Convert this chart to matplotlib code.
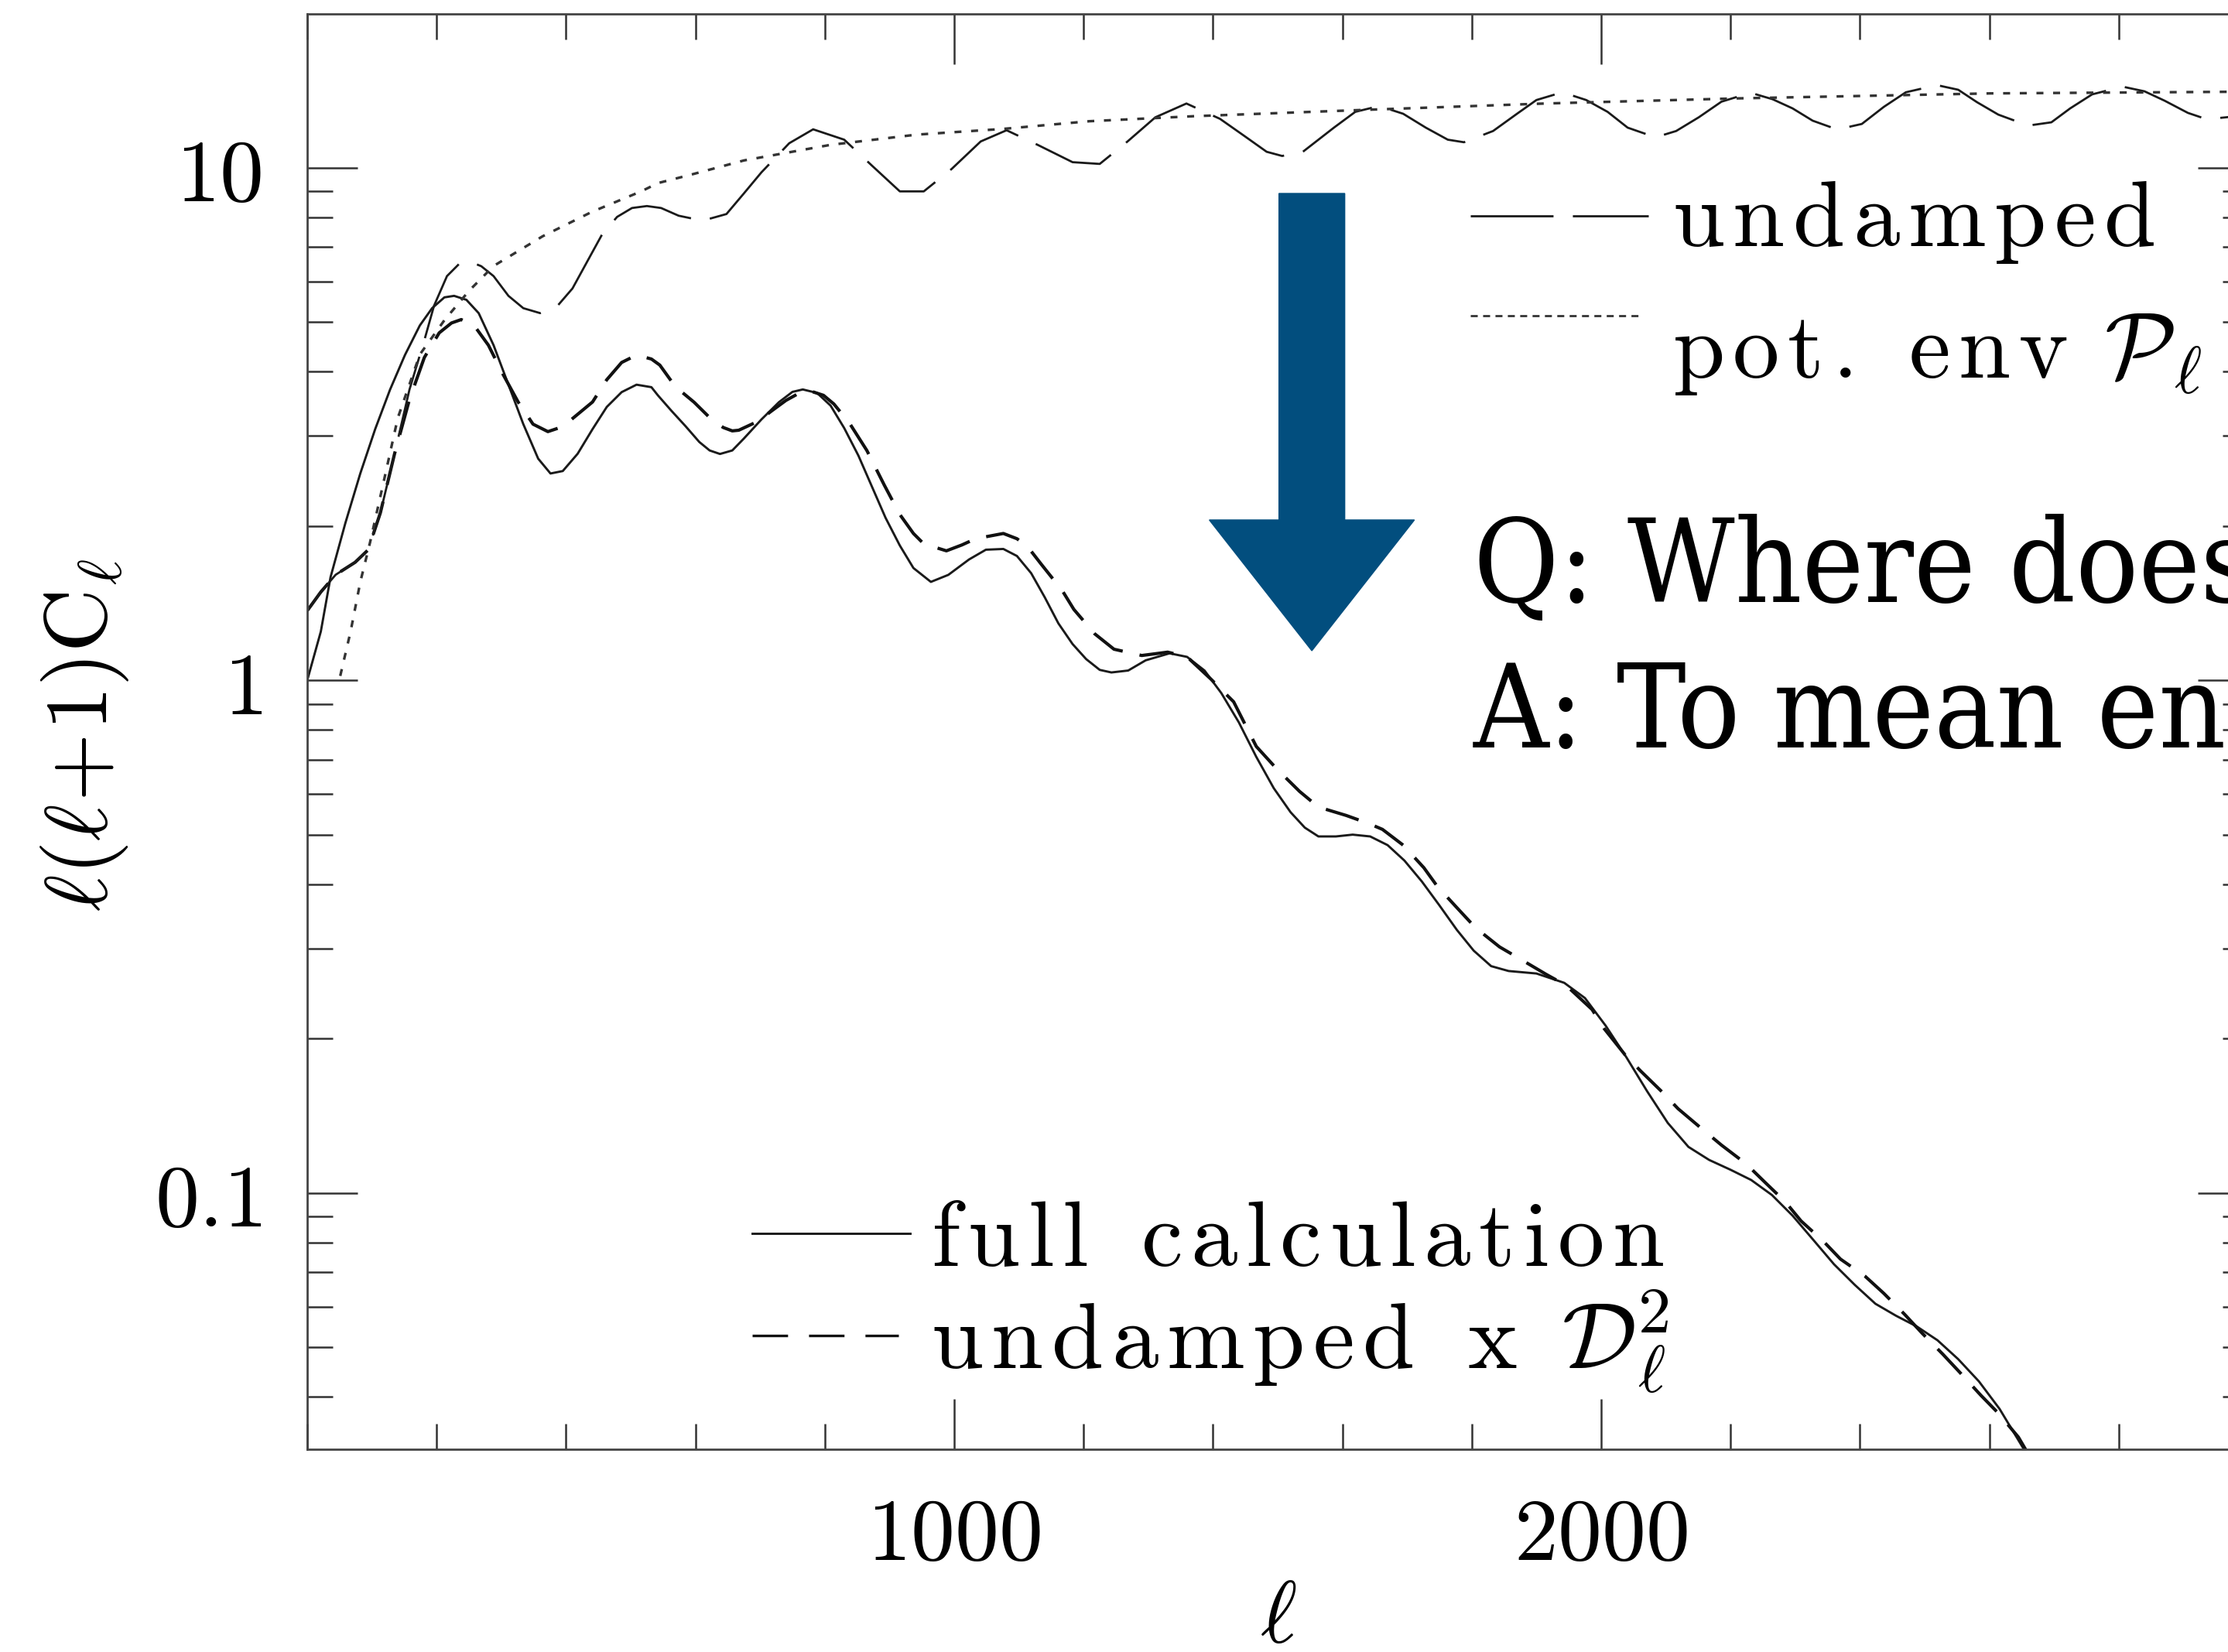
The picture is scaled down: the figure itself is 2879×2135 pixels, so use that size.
import numpy as np
import matplotlib
matplotlib.use('Agg')
import matplotlib.pyplot as plt
from matplotlib.patches import FancyArrow
from matplotlib.ticker import FixedLocator, FixedFormatter, NullFormatter, LogLocator, MultipleLocator

plt.rcParams['mathtext.fontset'] = 'cm'
plt.rcParams['lines.scale_dashes'] = False

# full calculation
ell_full = [0, 21, 36, 59, 82, 105, 128, 151, 174, 193,
            212, 227, 246, 265, 288, 311, 334, 357, 376, 395,
            418, 441, 463, 486, 509, 532, 542, 563, 585, 606,
            622, 638, 657, 675, 702, 729, 750, 766, 788, 809,
            830, 852, 873, 894, 916, 937, 964, 991, 1023, 1049,
            1076, 1097, 1119, 1140, 1161, 1183, 1204, 1225, 1243, 1269,
            1296, 1333, 1360, 1387, 1413, 1440, 1467, 1494, 1520, 1542,
            1563, 1590, 1616, 1643, 1670, 1696, 1723, 1750, 1777, 1803,
            1830, 1857, 1900, 1943, 1975, 2007, 2039, 2071, 2103, 2135,
            2167, 2200, 2232, 2264, 2296, 2328, 2360, 2392, 2424, 2456,
            2488, 2520, 2552, 2584, 2616, 2653, 2680]
cl_full = [1.00, 1.245, 1.589, 2.028, 2.532, 3.090, 3.690, 4.310, 4.922, 5.320,
           5.585, 5.623, 5.524, 5.203, 4.506, 3.773, 3.160, 2.706, 2.532, 2.560,
           2.767, 3.090, 3.414, 3.649, 3.773, 3.731, 3.597, 3.355, 3.129, 2.917,
           2.808, 2.764, 2.808, 2.963, 3.227, 3.487, 3.653, 3.693, 3.636, 3.434,
           3.105, 2.743, 2.385, 2.074, 1.832, 1.656, 1.556, 1.606, 1.721, 1.798,
           1.804, 1.748, 1.618, 1.452, 1.292, 1.177, 1.100, 1.048, 1.036, 1.045,
           1.094, 1.129, 1.111, 1.045, 0.944, 0.828, 0.709, 0.616, 0.553, 0.516,
           0.496, 0.496, 0.500, 0.496, 0.477, 0.445, 0.405, 0.364, 0.326, 0.297,
           0.277, 0.271, 0.268, 0.257, 0.240, 0.212, 0.184, 0.158, 0.137, 0.123,
           0.116, 0.111, 0.106, 0.0991, 0.0903, 0.0810, 0.0726, 0.0662, 0.0608, 0.0576,
           0.0549, 0.0516, 0.0474, 0.0429, 0.0379, 0.0317, 0.0285]

# undamped x D^2
ell_damped = [0, 21, 44, 74, 94, 113, 135, 158, 181, 204,
              223, 238, 258, 280, 303, 326, 349, 372, 395, 418,
              441, 463, 486, 509, 532, 545, 569, 598, 625, 643,
              657, 667, 697, 718, 740, 761, 777, 798, 814, 838,
              865, 892, 916, 937, 953, 988, 1012, 1033, 1076, 1097,
              1113, 1135, 1167, 1185, 1217, 1247, 1290, 1330, 1360, 1397,
              1432, 1467, 1499, 1534, 1563, 1606, 1640, 1662, 1694, 1726,
              1747, 1779, 1806, 1843, 1875, 1915, 1946, 1986, 2005, 2037,
              2061, 2093, 2119, 2157, 2186, 2224, 2253, 2285, 2309, 2344,
              2370, 2408, 2437, 2469, 2496, 2528, 2555, 2587, 2613, 2645,
              2660]
cl_damped = [1.367, 1.487, 1.607, 1.699, 1.796, 2.121, 2.767, 3.530, 4.263, 4.762,
             4.978, 5.055, 4.922, 4.506, 3.945, 3.491, 3.160, 3.056, 3.125, 3.303,
             3.491, 3.858, 4.169, 4.310, 4.234, 4.12, 3.740, 3.487, 3.227, 3.113,
             3.066, 3.075, 3.202, 3.355, 3.516, 3.636, 3.670, 3.597, 3.460, 3.177,
             2.808, 2.403, 2.106, 1.934, 1.846, 1.789, 1.837, 1.889, 1.934, 1.889,
             1.826, 1.682, 1.497, 1.375, 1.233, 1.150, 1.118, 1.135, 1.111, 1.005,
             0.908, 0.743, 0.671, 0.607, 0.566, 0.545, 0.526, 0.512, 0.477, 0.431,
             0.396, 0.358, 0.329, 0.302, 0.286, 0.267, 0.254, 0.228, 0.209, 0.186,
             0.173, 0.158, 0.146, 0.133, 0.124, 0.114, 0.105, 0.0960, 0.0882, 0.0804,
             0.0743, 0.0688, 0.0637, 0.0580, 0.0533, 0.0485, 0.0446, 0.0403, 0.0373, 0.0334,
             0.0310]

# undamped spectrum
ell_undamped = [0, 21, 44, 74, 94, 113, 135, 158, 181, 196,
                216, 235, 250, 269, 288, 311, 334, 360, 387, 410,
                433, 456, 479, 502, 525, 547, 574, 611, 648, 675,
                702, 745, 782, 830, 873, 916, 953, 996, 1041, 1081,
                1129, 1183, 1225, 1268, 1311, 1359, 1411, 1449, 1483, 1507,
                1539, 1587, 1620, 1657, 1694, 1729, 1763, 1788, 1833, 1870,
                1900, 1940, 1977, 2010, 2041, 2084, 2116, 2151, 2186, 2231,
                2265, 2296, 2327, 2365, 2403, 2437, 2471, 2519, 2552, 2581,
                2614, 2660, 2696, 2725, 2759, 2806, 2840, 2871, 2907, 2936,
                2969, 3000]
cl_undamped = [1.367, 1.487, 1.607, 1.699, 1.796, 2.121, 2.767, 3.690, 4.606, 5.379,
               6.145, 6.495, 6.568, 6.424, 6.145, 5.623, 5.320, 5.203, 5.379, 5.813,
               6.568, 7.419, 8.017, 8.343, 8.417, 8.343, 8.06, 7.88, 8.12, 8.91,
               9.79, 11.16, 11.88, 11.34, 10.09, 8.99, 8.99, 9.94, 11.25, 11.83,
               11.08, 10.25, 10.17, 11.25, 12.54, 13.34, 12.45, 11.52, 10.74, 10.54,
               10.74, 11.97, 12.85, 13.19, 12.74, 11.97, 11.34, 11.21, 11.79, 12.74,
               13.55, 14.03, 13.55, 12.85, 11.97, 11.46, 11.79, 12.54, 13.45, 14.0,
               13.6, 13.05, 12.35, 11.87, 12.17, 13.14, 14.03, 14.49, 14.19, 13.42,
               12.69, 12.08, 12.26, 13.05, 13.9, 14.39, 14.09, 13.51, 12.79, 12.43,
               12.55, 12.9]

# potential envelope
ell_env = [51, 67, 82, 97, 120, 140, 174, 212, 250, 288, 364, 440, 517, 542, 593, 675, 809, 942, 1075,
           1209, 1370, 1646, 1913, 2210, 2601, 2969, 3000]
cl_env = [1.02, 1.245, 1.555, 1.856, 2.5, 3.25, 4.32, 5.04, 5.75, 6.43, 7.35, 8.2, 9.0, 9.33, 9.69, 10.33,
          11.08, 11.6, 11.9, 12.32, 12.6, 12.98, 13.34, 13.65, 13.96, 14.06, 14.07]

y_ticks = [0.1, 1, 10]
y_tick_labels = ['0.1', '1', '10']
x_ticks = [1000, 2000]
x_tick_labels = ['1000', '2000']


def spaced(s, gap=0.10, word_gap=0.65):
    # letter-spaced roman text as a mathtext string
    words = [(r'\hspace{%g}' % gap).join(r'\mathrm{%s}' % c for c in w) for w in s.split(' ')]
    return (r'\hspace{%g}' % word_gap).join(words)


fig = plt.figure(figsize=(28.79, 21.35), dpi=100)
ax = fig.add_axes([0.1379, 0.1227, 0.8711, 0.8689])

ax.plot(ell_full, cl_full, color='#1a1a1a', lw=2.1)
ax.plot(ell_damped, cl_damped, color='#111111', lw=3.0, dashes=(32, 16))
ax.plot(ell_undamped, cl_undamped, color='#1a1a1a', lw=2.0, dashes=(77, 18))
ax.plot(ell_env, cl_env, color='#333333', lw=2.4, dashes=(6.5, 9))

ax.set_yscale('log')
ax.set_xlim(0, 3000)
ax.set_ylim(10 ** -1.5, 10 ** 1.3)

ax.yaxis.set_major_locator(FixedLocator(y_ticks))
ax.yaxis.set_major_formatter(FixedFormatter([r'$\mathrm{%s}$' % t for t in y_tick_labels]))
ax.yaxis.set_minor_locator(LogLocator(base=10, subs=np.arange(2, 10), numticks=20))
ax.yaxis.set_minor_formatter(NullFormatter())
ax.xaxis.set_major_locator(FixedLocator(x_ticks))
ax.xaxis.set_major_formatter(FixedFormatter([r'$\mathrm{%s}$' % t for t in x_tick_labels]))
ax.xaxis.set_minor_locator(MultipleLocator(200))

ax.tick_params(which='both', direction='in', top=True, right=True, color='#333333', width=1.8)
ax.tick_params(which='major', length=47, labelsize=82)
ax.tick_params(axis='y', which='major', pad=42)
ax.tick_params(axis='x', which='major', pad=40)
ax.tick_params(which='minor', length=24)
for s in ax.spines.values():
    s.set_linewidth(2.0)
    s.set_color('#444444')

# legend keys and labels
ax.plot([0.5993, 0.6910], [0.8593, 0.8593], transform=ax.transAxes, color='#1a1a1a', lw=2.0, dashes=(77, 18))
ax.plot([0.5993, 0.6858], [0.7895, 0.7895], transform=ax.transAxes, color='#333333', lw=2.0, dashes=(6.5, 5))
ax.plot([0.2293, 0.3106], [0.1504, 0.1504], transform=ax.transAxes, color='#1a1a1a', lw=2.1)
ax.plot([0.2293, 0.3046], [0.0792, 0.0792], transform=ax.transAxes, color='#111111', lw=2.4, dashes=(33, 19.5))

lab = dict(transform=ax.transAxes, fontsize=87, va='baseline', ha='left')
ax.text(0.7033, 0.8383, '$%s$' % spaced('undamped'), **lab)
ax.text(0.7033, 0.7466, '$%s\\hspace{0.42}%s\\hspace{0.45}\\mathcal{P}_\\ell$' % (spaced('pot.'), spaced('env')),
        **lab)
ax.text(0.3214, 0.1278, '$%s$' % spaced('full calculation'), **lab)
ax.text(0.3214, 0.0566, '$%s$' % spaced('undamped x') + r'$\hspace{0.55}\mathcal{D}_\ell^2$', **lab)

fig.text(0.0382, 0.555, r'$\ell(\ell\!+\!1)\mathrm{C}_\ell$', rotation=90, ha='center', va='center', fontsize=82)
fig.text(0.5738, 0.021, r'$\ell$', ha='center', va='center', fontsize=82)

arrow = FancyArrow(0.5888, 0.8829, 0, -0.2768, width=0.02952, head_width=0.09205, head_length=0.07916,
                   length_includes_head=True, color='#024e7e', transform=fig.transFigure)
fig.add_artist(arrow)

qa = dict(family='DejaVu Serif', fontstretch='condensed', fontsize=108, va='baseline')
fig.text(0.6613, 0.6356, 'Q: Where does', **qa)
fig.text(0.6613, 0.5475, 'A: To mean en', **qa)

fig.savefig('out.png', dpi=100)
